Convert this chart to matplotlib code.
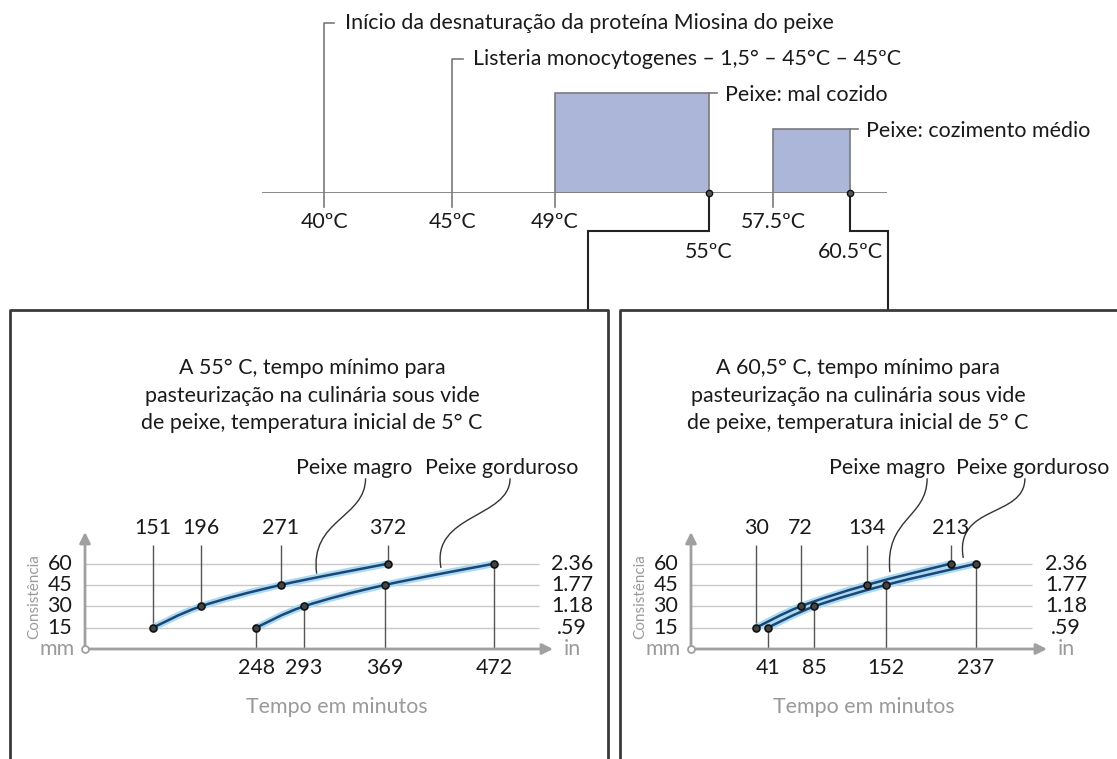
import numpy as np
import matplotlib
matplotlib.use('Agg')
import matplotlib.pyplot as plt
from matplotlib.path import Path
from matplotlib.patches import PathPatch

plt.rcParams['font.family'] = ['Lato', 'DejaVu Sans']

W, H = 1117, 759

# --- top timeline ---
temp_marks = [40, 45, 49, 55, 57.5, 60.5]
temp_labels = ['40ºC', '45ºC', '49ºC', '55ºC', '57.5ºC', '60.5ºC']
note_temps = [40, 45]
note_texts = ['Início da desnaturação da proteína Miosina do peixe',
              'Listeria monocytogenes – 1,5° – 45°C – 45ºC']
cook_start = [49, 57.5]
cook_end = [55, 60.5]
cook_names = ['Peixe: mal cozido', 'Peixe: cozimento médio']

# --- panels ---
consist_mm = [15, 30, 45, 60]
consist_in = ['.59', '1.18', '1.77', '2.36']
lean_55 = [151, 196, 271, 372]
fat_55 = [248, 293, 369, 472]
lean_60 = [30, 72, 134, 213]
fat_60 = [41, 85, 152, 237]
titles_55 = ['A 55° C, tempo mínimo para',
             'pasteurização na culinária sous vide',
             'de peixe, temperatura inicial de 5° C']
titles_60 = ['A 60,5° C, tempo mínimo para',
             'pasteurização na culinária sous vide',
             'de peixe, temperatura inicial de 5° C']

TXT = '#1a1a1a'
GRAY = '#9a9a9a'
FS = 15.4

fig = plt.figure(figsize=(W / 100, H / 100), dpi=100)
bg = fig.add_axes([0, 0, 1, 1])
bg.set_xlim(0, W)
bg.set_ylim(H, 0)
bg.axis('off')


def px_axes(x0, y0, x1, y1):
    return fig.add_axes([x0 / W, 1 - y1 / H, (x1 - x0) / W, (y1 - y0) / H])


def to_bg(ax, x, y):
    return bg.transData.inverted().transform(ax.transData.transform((x, y)))


# timeline axes: y in pixels above the baseline
ax_t = px_axes(262, 0, 887, 192.7)
ax_t.set_xlim(37.58, 61.94)
ax_t.set_ylim(0, 192.7)
ax_t.axis('off')
ax_t.axhline(0, color='#808080', lw=1.3, zorder=3)

for t0, t1, h, name in zip(cook_start, cook_end, [99.5, 63.5], cook_names):
    ax_t.bar(t0, h, width=t1 - t0, align='edge', color='#abb6d9',
             edgecolor='#7a7a7a', lw=1.2, zorder=2)
    ax_t.plot([t1, t1 + 0.32], [h, h], color='#7a7a7a', lw=1.2)
    ax_t.text(t1 + 0.62, h - 2, name, fontsize=FS, color=TXT,
              va='center', ha='left')

for t, h, s in zip(note_temps, [170, 133.5], note_texts):
    ax_t.plot([t, t, t + 0.4], [-14, h, h], color='#7a7a7a', lw=1.2,
              clip_on=False)
    ax_t.text(t + 0.82, h, s, fontsize=FS, color=TXT, va='center', ha='left')

for t, s in zip(temp_marks, temp_labels):
    low = t in cook_end
    if not low and t not in note_temps:
        ax_t.plot([t, t], [0, -14], color='#7a7a7a', lw=1.2, clip_on=False)
    ax_t.text(t, -59 if low else -29, s, fontsize=FS, color=TXT,
              ha='center', va='center', clip_on=False)

for t in cook_end:
    ax_t.plot(t, 0, 'o', ms=4.5, mfc='#555', mec='#111', mew=1,
              zorder=5, clip_on=False)

# connectors from 55 and 60.5 to the panels
for t, xp in zip(cook_end, [588, 888]):
    x0, y0 = to_bg(ax_t, t, 0)
    bg.plot([x0, x0, xp, xp], [y0, 231, 231, 310], color='#222', lw=1.5,
            solid_joinstyle='miter')

# panel frames
bg.plot([10, 10, 608, 608], [770, 310, 310, 770], color='#3a3a3a', lw=2)
bg.plot([620, 620, 1130], [770, 310, 310], color='#3a3a3a', lw=2)


def smooth_path(xs, ys):
    p = np.column_stack([xs, ys]).astype(float)
    ext = np.vstack([p[0], p, p[-1]])
    verts = [p[0]]
    codes = [Path.MOVETO]
    for i in range(len(p) - 1):
        a, b, c, d = ext[i], ext[i + 1], ext[i + 2], ext[i + 3]
        verts += [b + (c - a) / 6, c - (d - b) / 6, c]
        codes += [Path.CURVE4] * 3
    return Path(verts, codes)


def leader(ax, start, end):
    (x0, y0), (x1, y1) = start, end
    verts = [(x0, y0), (x0, y0 - 28), (x1 - (x0 - x1) * 0.15, y1 + 38),
             (x1, y1)]
    codes = [Path.MOVETO] + [Path.CURVE4] * 3
    ax.add_patch(PathPatch(Path(verts, codes), fill=False, ec='#333',
                           lw=1, clip_on=False))


def panel(x_org, x_end, m0, grid_end, lean, fat, titles, title_x,
          labels, leaders):
    k = 1.0627
    ax = px_axes(x_org, 532, x_end, 649)
    ax.set_xlim(m0, m0 + (x_end - x_org) / k)
    ax.set_ylim(0, 117 / 1.422)
    ax.axis('off')

    ax.hlines(consist_mm, m0, grid_end, color='#c9c9c9', lw=1, zorder=1)
    for xy, xt in [((1, 0), (0, 0)), ((0, 1), (0, 0))]:
        ax.annotate('', xy=xy, xytext=xt, xycoords='axes fraction',
                    arrowprops=dict(arrowstyle='-|>', color='#a0a0a0',
                                    lw=2, mutation_scale=16,
                                    shrinkA=0, shrinkB=0))
    ax.plot(0, 0, 'o', transform=ax.transAxes, ms=5, mfc='white',
            mec='#a0a0a0', mew=1.3, clip_on=False, zorder=6)

    for v, si in zip(consist_mm, consist_in):
        ax.annotate(str(v), xy=(0, v), xycoords=('axes fraction', 'data'),
                    xytext=(-25, 0), textcoords='offset pixels',
                    ha='center', va='center', fontsize=FS, color=TXT)
        ax.annotate(si, xy=(1, v), xycoords=('axes fraction', 'data'),
                    xytext=(19, 0), textcoords='offset pixels',
                    ha='center', va='center', fontsize=FS, color=TXT)
    ax.annotate('mm', xy=(0, 0), xycoords='axes fraction', xytext=(-28, 0),
                textcoords='offset pixels', ha='center', va='center',
                fontsize=FS, color=GRAY)
    ax.annotate('in', xy=(1, 0), xycoords='axes fraction', xytext=(19, 0),
                textcoords='offset pixels', ha='center', va='center',
                fontsize=FS, color=GRAY)
    ax.annotate('Consistência', xy=(0, 0.45), xycoords='axes fraction',
                xytext=(-51, 0), textcoords='offset pixels', rotation=90,
                ha='center', va='center', fontsize=11, color=GRAY)

    for m, v in zip(lean, consist_mm):
        ax.vlines(m, v, 73, color='#555', lw=1, zorder=2)
        ax.text(m, 85, str(m), ha='center', va='center', fontsize=FS,
                color=TXT, clip_on=False)
    for m, v in zip(fat, consist_mm):
        ax.vlines(m, 0, v, color='#555', lw=1, zorder=2)
        ax.text(m, -13.4, str(m), ha='center', va='center', fontsize=FS,
                color=TXT, clip_on=False)

    for xs in [lean, fat]:
        path = smooth_path(xs, consist_mm)
        ax.add_patch(PathPatch(path, fill=False, ec='#a9daf3', lw=5,
                               zorder=3, capstyle='round'))
        ax.add_patch(PathPatch(path, fill=False, ec='#1d4575', lw=1.8,
                               zorder=4))
        ax.plot(xs, consist_mm, 'o', ms=5, mfc='#444', mec='#111', mew=1.2,
                zorder=5)

    for (lx, name, sx), end in zip(labels, leaders):
        ax.text(lx, 127, name, ha='center', va='center', fontsize=FS,
                color=TXT, clip_on=False)
        leader(ax, (sx, 120), end)

    for i, s in enumerate(titles):
        bg.text(title_x, 368 + i * 27.5, s, ha='center', va='center',
                fontsize=FS, color=TXT)
    return ax


panel(85, 553, 87.0, 514, lean_55, fat_55, titles_55, 312,
      [(340, 'Peixe magro', 351), (479, 'Peixe gorduroso', 487)],
      [(305, 53), (422, 57)])
panel(691, 1047, -31.2, 290, lean_60, fat_60, titles_60, 858,
      [(153, 'Peixe magro', 191), (290, 'Peixe gorduroso', 283)],
      [(156, 54), (225, 64)])

bg.text(337, 707, 'Tempo em minutos', ha='center', va='center',
        fontsize=FS, color=GRAY)
bg.text(864, 707, 'Tempo em minutos', ha='center', va='center',
        fontsize=FS, color=GRAY)

fig.savefig('out.png', dpi=100)
